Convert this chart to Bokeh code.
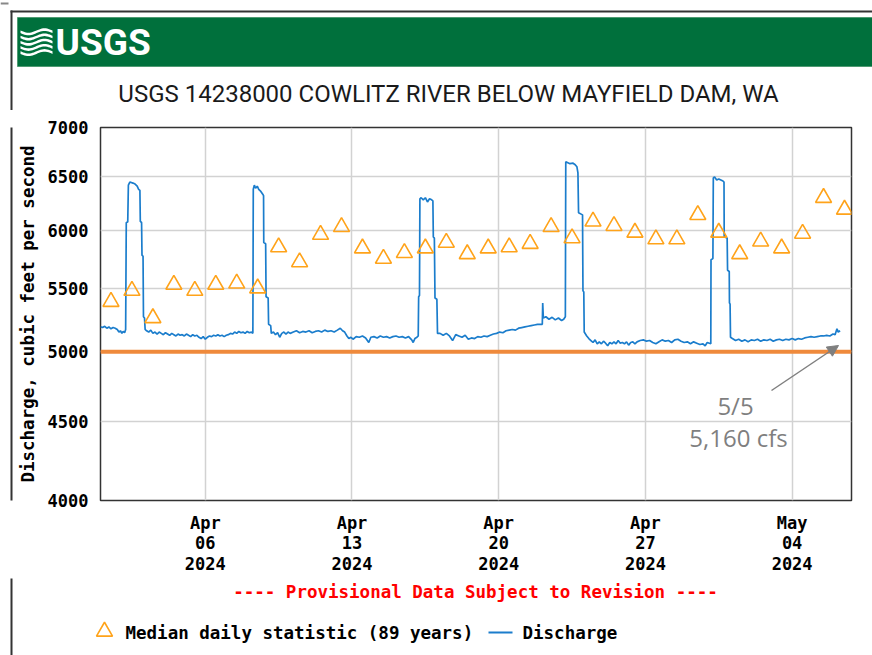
import numpy as np
import pandas as pd
from bokeh.plotting import figure
from bokeh.layouts import column, row
from bokeh.models import (Range1d, FixedTicker, Span, Label, Arrow, NormalHead)
from bokeh.embed import file_html
from bokeh.resources import INLINE

# ---------------- data ----------------
x_start = pd.Timestamp("2024-04-01 00:00")
x_end = pd.Timestamp("2024-05-06 20:00")

# Median daily statistic (89 years), one value per day Apr 1 .. May 6 (plotted at noon)
median_dates = pd.date_range("2024-04-01 12:00", periods=36, freq="D")
median_cfs = [5390, 5480, 5260, 5530, 5480, 5530, 5540, 5500, 5850, 5720,
              5960, 6030, 5840, 5750, 5800, 5840, 5890, 5790, 5840, 5850,
              5880, 6030, 5930, 6080, 6040, 5980, 5920, 5920, 6140, 5980,
              5790, 5900, 5840, 5970, 6300, 6190]

# Discharge readings: (days after Apr 1 00:00, cfs)
discharge_readings = [
    (0.00, 5190), (0.10, 5185), (0.20, 5195), (0.30, 5180), (0.40, 5190), (0.50, 5175),
    (0.60, 5185), (0.70, 5180), (0.80, 5170), (0.88, 5150), (0.95, 5160), (1.02, 5140),
    (1.08, 5155), (1.15, 5145), (1.20, 5170),
    (1.23, 6070), (1.30, 6075), (1.33, 6420), (1.40, 6450), (1.55, 6440), (1.65, 6430),
    (1.75, 6410), (1.82, 6380), (1.88, 6370), (1.90, 6080), (1.96, 6070), (1.98, 5780),
    (2.03, 5770), (2.05, 5270), (2.10, 5260), (2.13, 5170),
    (2.2, 5160), (2.3, 5150), (2.4, 5165), (2.5, 5140), (2.6, 5150), (2.7, 5135), (2.8, 5150),
    (2.9, 5140), (3.0, 5130), (3.1, 5145), (3.2, 5135), (3.3, 5125), (3.4, 5140), (3.5, 5130),
    (3.6, 5120), (3.7, 5135), (3.8, 5125), (3.9, 5130), (4.0, 5120), (4.1, 5135), (4.2, 5125),
    (4.3, 5115), (4.4, 5130), (4.5, 5120), (4.6, 5125), (4.7, 5110), (4.8, 5100), (4.9, 5115),
    (5.0, 5095), (5.1, 5110), (5.2, 5120), (5.3, 5115), (5.4, 5125), (5.5, 5120), (5.6, 5130),
    (5.7, 5120), (5.8, 5125), (5.9, 5115), (6.0, 5125), (6.1, 5130), (6.2, 5140), (6.3, 5135),
    (6.4, 5150), (6.5, 5140), (6.6, 5155), (6.7, 5145), (6.8, 5150), (6.9, 5140), (7.0, 5155),
    (7.1, 5145), (7.2, 5150),
    (7.27, 5140), (7.29, 6380), (7.34, 6420), (7.40, 6390), (7.48, 6410), (7.55, 6380),
    (7.65, 6360), (7.75, 6330), (7.78, 6320), (7.79, 5890), (7.88, 5880), (7.90, 5430),
    (8.00, 5420), (8.02, 5210), (8.12, 5200), (8.15, 5140),
    (8.25, 5150), (8.35, 5130), (8.45, 5145), (8.55, 5110), (8.65, 5140), (8.75, 5150),
    (8.85, 5135), (8.95, 5150), (9.05, 5140), (9.2, 5150), (9.35, 5160), (9.5, 5145),
    (9.65, 5155), (9.8, 5150), (9.95, 5160), (10.1, 5145), (10.25, 5155), (10.4, 5160),
    (10.55, 5150), (10.7, 5165), (10.85, 5155), (11.0, 5160), (11.15, 5150), (11.3, 5165),
    (11.44, 5180), (11.55, 5160), (11.65, 5150), (11.76, 5120), (11.85, 5100), (11.95, 5110),
    (12.05, 5095), (12.2, 5115), (12.35, 5110), (12.5, 5120), (12.65, 5105), (12.8, 5070),
    (12.9, 5110), (13.05, 5115), (13.2, 5105), (13.35, 5120), (13.5, 5110), (13.65, 5115),
    (13.8, 5105), (13.95, 5115), (14.1, 5120), (14.25, 5110), (14.4, 5115), (14.55, 5105),
    (14.7, 5115), (14.85, 5090), (14.92, 5070), (15.0, 5100), (15.1, 5110), (15.16, 5120),
    (15.18, 5430), (15.22, 5440), (15.24, 6290), (15.3, 6300), (15.4, 6280), (15.5, 6300),
    (15.6, 6260), (15.7, 6290), (15.8, 6280), (15.86, 6270), (15.88, 5940), (15.93, 5930),
    (15.96, 5420), (16.05, 5410), (16.08, 5140),
    (16.2, 5140), (16.35, 5125), (16.5, 5140), (16.65, 5120), (16.8, 5085), (16.95, 5130),
    (17.1, 5120), (17.25, 5110), (17.4, 5125), (17.55, 5095), (17.7, 5105), (17.85, 5100),
    (18.0, 5115), (18.15, 5110), (18.3, 5120), (18.45, 5115), (18.6, 5125), (18.75, 5135),
    (18.9, 5140), (19.05, 5150), (19.2, 5145), (19.35, 5160), (19.5, 5165), (19.65, 5170),
    (19.8, 5165), (19.95, 5180), (20.1, 5185), (20.25, 5190), (20.4, 5195), (20.55, 5200),
    (20.7, 5205), (20.85, 5210), (21.0, 5210), (21.08, 5210), (21.1, 5380), (21.13, 5260),
    (21.25, 5270), (21.4, 5250), (21.55, 5265), (21.7, 5245), (21.85, 5260), (22.0, 5240),
    (22.1, 5250), (22.18, 5270),
    (22.2, 6650), (22.3, 6640), (22.4, 6630), (22.55, 6635), (22.65, 6620), (22.73, 6600),
    (22.78, 6540), (22.81, 6160), (23.0, 6140), (23.02, 5480), (23.06, 5470), (23.08, 5150),
    (23.2, 5120), (23.3, 5100), (23.4, 5085), (23.5, 5070), (23.6, 5090), (23.7, 5060),
    (23.8, 5075), (23.9, 5060), (24.0, 5080), (24.1, 5065), (24.2, 5045), (24.3, 5070),
    (24.4, 5060), (24.5, 5075), (24.6, 5060), (24.7, 5085), (24.8, 5065), (24.9, 5070),
    (25.0, 5060), (25.1, 5075), (25.2, 5050), (25.3, 5070), (25.4, 5075), (25.5, 5060),
    (25.6, 5075), (25.75, 5085), (25.9, 5090), (26.05, 5080), (26.2, 5085), (26.35, 5070),
    (26.5, 5060), (26.65, 5075), (26.8, 5090), (26.95, 5080), (27.1, 5085), (27.25, 5070),
    (27.4, 5090), (27.55, 5095), (27.7, 5080), (27.85, 5070), (28.0, 5075), (28.15, 5060),
    (28.3, 5075), (28.45, 5065), (28.6, 5055), (28.75, 5060), (28.85, 5045), (28.95, 5070),
    (29.12, 5060),
    (29.13, 5740), (29.22, 5750), (29.24, 6490), (29.3, 6500), (29.4, 6470), (29.5, 6480),
    (29.6, 6470), (29.7, 6460), (29.75, 6450), (29.76, 5940), (29.9, 5930), (29.92, 5650),
    (30.0, 5640), (30.01, 5380), (30.04, 5370), (30.06, 5110),
    (30.15, 5100), (30.3, 5085), (30.45, 5095), (30.6, 5080), (30.75, 5090), (30.9, 5075),
    (31.05, 5090), (31.2, 5085), (31.35, 5095), (31.5, 5080), (31.65, 5090), (31.8, 5085),
    (31.95, 5095), (32.1, 5080), (32.25, 5090), (32.4, 5095), (32.55, 5085), (32.7, 5095),
    (32.85, 5090), (33.0, 5100), (33.15, 5090), (33.3, 5100), (33.45, 5095), (33.6, 5105),
    (33.75, 5110), (33.9, 5115), (34.05, 5110), (34.2, 5115), (34.35, 5120), (34.5, 5120),
    (34.65, 5125), (34.8, 5120), (34.95, 5135), (35.05, 5130), (35.14, 5175), (35.2, 5150),
    (35.29, 5160),
]

reference_flow = 5000

y_ticks = [4000, 4500, 5000, 5500, 6000, 6500, 7000]
y_tick_labels = ["4000", "4500", "5000", "5500", "6000", "6500", "7000"]

x_tick_dates = pd.to_datetime(["2024-04-06", "2024-04-13", "2024-04-20", "2024-04-27", "2024-05-04"])
x_tick_month = ["Apr", "Apr", "Apr", "Apr", "May"]
x_tick_day = ["06", "13", "20", "27", "04"]
x_tick_year = ["2024", "2024", "2024", "2024", "2024"]

title_text = "USGS 14238000 COWLITZ RIVER BELOW MAYFIELD DAM, WA"
y_title = "Discharge, cubic feet per second"
provisional_text = "---- Provisional Data Subject to Revision ----"
legend_median = "Median daily statistic (89 years)"
legend_discharge = "Discharge"
note_date = "5/5"
note_value = "5,160 cfs"

# ---------------- styling ----------------
W, H = 872, 655
HEAD_H = 110          # header strip (page y 0..110)
MAIN_BOTTOM = 578     # main chart figure ends here
STRIP_W = 14
MONO = "DejaVu Sans Mono"
SANS = "Roboto"
BLUE = "#1b7dcc"
ORANGE_TRI = "#ffa31a"
GRAY = "#7f7f7f"
FRAME_COL = "#333333"
GREEN = "#00703c"


def blank_fig(w, h, xr, yr):
    f = figure(width=w, height=h, x_range=Range1d(*xr), y_range=Range1d(*yr),
               output_backend="svg", toolbar_location=None,
               min_border_left=0, min_border_right=0, min_border_top=0, min_border_bottom=0)
    f.axis.visible = False
    f.grid.visible = False
    f.outline_line_color = None
    f.background_fill_color = "white"
    f.border_fill_color = "white"
    return f


def outer_left_edge(f, y_top, y_bottom):
    # left edge of the page frame, drawn as a thin filled bar
    f.quad(left=[10], right=[12], top=[y_top], bottom=[y_bottom], fill_color=FRAME_COL, line_color=None)


# ---------------- header: banner + title ----------------
head = blank_fig(W, HEAD_H, (0, W), (HEAD_H, 0))
head.line([0, 8], [3, 3], line_color="#888888", line_width=2)
head.quad(left=[10], right=[W + 10], top=[10], bottom=[12], fill_color=FRAME_COL, line_color=None)
outer_left_edge(head, 10, HEAD_H + 20)
head.quad(left=17, right=W, top=17, bottom=66, fill_color=GREEN, line_color="#4f9a72", line_width=1)
xs_icon = np.linspace(20, 52, 25)
icon_xs, icon_ys = [], []
for k in range(5):
    y0 = 30 + k * 5.2
    upper = y0 + 2.2 * np.sin((xs_icon - 20) / 32 * 2 * np.pi)
    icon_xs.append(list(np.concatenate([xs_icon, xs_icon[::-1]])))
    icon_ys.append(list(np.concatenate([upper, (upper + 2.6)[::-1]])))
head.patches(icon_xs, icon_ys, fill_color="white", line_color=None)
head.add_layout(Label(x=55, y=42, text="USGS", text_font=SANS,
                      text_font_style="bold", text_font_size="37px", text_color="white",
                      text_align="left", text_baseline="middle"))
head.add_layout(Label(x=448, y=93, text=title_text, text_font=SANS,
                      text_font_size="24px", text_color="#1a1a1a",
                      text_align="center", text_baseline="middle"))

# ---------------- left strip (outer frame line) ----------------
strip = blank_fig(STRIP_W, MAIN_BOTTOM - HEAD_H, (0, STRIP_W), (MAIN_BOTTOM, HEAD_H))
outer_left_edge(strip, HEAD_H - 20, MAIN_BOTTOM + 20)

# ---------------- main chart ----------------
FRAME_L, FRAME_R, FRAME_T, FRAME_B = 100, 851, 127, 500
p = figure(width=W - STRIP_W, height=MAIN_BOTTOM - HEAD_H, x_axis_type="datetime", y_axis_type="log",
           x_range=Range1d(x_start, x_end), y_range=Range1d(4000, 7000),
           output_backend="svg", toolbar_location=None,
           min_border_left=FRAME_L - STRIP_W, min_border_right=W - FRAME_R,
           min_border_top=FRAME_T - HEAD_H, min_border_bottom=MAIN_BOTTOM - FRAME_B)
p.background_fill_color = "white"
p.border_fill_color = "white"
p.outline_line_color = FRAME_COL
p.outline_line_width = 1.5

tick_ms = [int(t.value // 10**6) for t in x_tick_dates]
p.xaxis.ticker = FixedTicker(ticks=tick_ms)
p.xgrid.ticker = FixedTicker(ticks=tick_ms)
p.xaxis.major_label_overrides = {t: f"{m}\n{d}\n{yv}" for t, m, d, yv in
                                 zip(tick_ms, x_tick_month, x_tick_day, x_tick_year)}
p.yaxis.ticker = FixedTicker(ticks=y_ticks)
p.ygrid.ticker = FixedTicker(ticks=y_ticks)
p.yaxis.major_label_overrides = {t: l for t, l in zip(y_ticks, y_tick_labels)}
for ax in (p.xaxis, p.yaxis):
    ax.axis_line_color = None
    ax.major_tick_line_color = None
    ax.minor_tick_line_color = None
    ax.major_tick_out = 0
    ax.major_tick_in = 0
    ax.major_label_text_font = MONO
    ax.major_label_text_font_style = "bold"
    ax.major_label_text_font_size = "17px"
    ax.major_label_text_color = "black"
p.yaxis.major_label_standoff = 12
p.xaxis.major_label_standoff = 12
p.xaxis.major_label_text_line_height = 1.03
p.yaxis.axis_label = y_title
p.yaxis.axis_label_text_font = MONO
p.yaxis.axis_label_text_font_style = "bold"
p.yaxis.axis_label_text_font_size = "17.5px"
p.yaxis.axis_label_text_color = "black"
p.yaxis.axis_label_standoff = 7
for g in (p.xgrid, p.ygrid):
    g.grid_line_color = "#d2d2d2"
    g.grid_line_width = 1.5

d_days = np.array([r[0] for r in discharge_readings])
d_cfs = np.array([r[1] for r in discharge_readings])
d_times = x_start + pd.to_timedelta(d_days, unit="D")
p.line(d_times, d_cfs, line_color=BLUE, line_width=1.7)
p.scatter(median_dates, median_cfs, marker="triangle", size=16,
          fill_color=None, line_color=ORANGE_TRI, line_width=1.6)
p.add_layout(Span(location=reference_flow, dimension="width", line_color="#ef8a3c", line_width=4))


def sx(X):
    return X - FRAME_L


def sy(Y):
    return FRAME_B - Y


p.add_layout(Arrow(x_start=sx(771), y_start=sy(390), x_end=sx(838), y_end=sy(345),
                   start_units="screen", end_units="screen",
                   end=NormalHead(size=11, fill_color=GRAY, line_color=GRAY),
                   line_color=GRAY, line_width=1.5))
p.add_layout(Label(x=sx(735), y=sy(405), x_units="screen", y_units="screen", text=note_date,
                   text_font="Open Sans", text_font_size="24px", text_color=GRAY,
                   text_align="center", text_baseline="middle"))
p.add_layout(Label(x=sx(738), y=sy(437), x_units="screen", y_units="screen", text=note_value,
                   text_font="Open Sans", text_font_size="24px", text_color=GRAY,
                   text_align="center", text_baseline="middle"))

# ---------------- footer: provisional note + legend ----------------
foot = blank_fig(W, H - MAIN_BOTTOM, (0, W), (H, MAIN_BOTTOM))
outer_left_edge(foot, MAIN_BOTTOM - 20, H + 20)
foot.add_layout(Label(x=475, y=591, text=provisional_text, text_font=MONO, text_font_style="bold",
                      text_font_size="17.5px", text_color="#ff0000",
                      text_align="center", text_baseline="middle"))
foot.scatter([104], [631], marker="triangle", size=16, fill_color=None,
             line_color=ORANGE_TRI, line_width=1.6)
foot.line([488, 512], [632, 632], line_color=BLUE, line_width=2)
foot.add_layout(Label(x=125, y=632, text=legend_median, text_font=MONO, text_font_style="bold",
                      text_font_size="17.5px", text_color="black",
                      text_align="left", text_baseline="middle"))
foot.add_layout(Label(x=522, y=632, text=legend_discharge, text_font=MONO, text_font_style="bold",
                      text_font_size="17.5px", text_color="black",
                      text_align="left", text_baseline="middle"))

layout = column(head, row(strip, p, spacing=0), foot, spacing=0)
open("out.html", "w").write(file_html(layout, INLINE))
